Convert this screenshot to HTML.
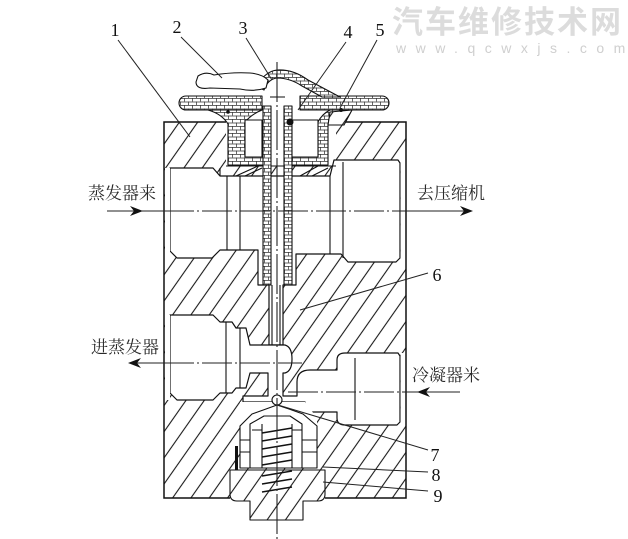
<!DOCTYPE html>
<html><head><meta charset="utf-8"><style>
html,body{margin:0;padding:0;background:#fff;overflow:hidden}
svg{display:block}
.t{font-family:"Liberation Serif","Noto Serif CJK SC",serif;font-size:17px;fill:#2a2a2a}
.n{font-family:"Liberation Serif",serif;font-size:18px;fill:#111}
</style></head><body>
<svg width="628" height="539" viewBox="0 0 628 539" xmlns="http://www.w3.org/2000/svg">
<defs>
<pattern id="h" patternUnits="userSpaceOnUse" width="15" height="15" patternTransform="rotate(35)">
<rect width="15" height="15" fill="#fff"/>
<line x1="7" y1="0" x2="7" y2="15" stroke="#1a1a1a" stroke-width="1.1"/>
</pattern>
<pattern id="b" patternUnits="userSpaceOnUse" width="8" height="7">
<rect width="8" height="7" fill="#fff"/>
<path d="M0,0.5H8M0.5,0V3.5M4.5,3.5V7M0,4H8" stroke="#333" stroke-width="0.75" fill="none"/>
</pattern>
</defs>

<!-- watermark -->
<text x="392" y="33" font-size="31" font-weight="bold" fill="#dcdcdc" font-family="'Noto Sans CJK SC',sans-serif" letter-spacing="2">汽车维修技术网</text>
<text x="396" y="53" font-size="14" fill="#cfcfcf" letter-spacing="9.5" font-family="'Liberation Sans',sans-serif">www.qcwxjs.com</text>

<!-- body hatch -->
<rect x="164" y="122" width="242" height="376" fill="url(#h)"/>

<g fill="#fff" stroke="#111" stroke-width="1.2" stroke-linejoin="round">
<rect x="226" y="118" width="110" height="48" stroke="none"/>
<path d="M170,168 L213,168 L220,176 L330,176 L334,160 L398,160 L400,163 L400,258 L396,262 L348,262 L341,254 L296,254 L296,285 L283,285 L283,345 L269,345 L269,285 L258,285 L258,250 L220,250 L212,258 L177,258 L170,251 Z"/>
<path d="M170,315 L213,315 L220,322 L232,322 L236,328 L246,328 L250,345 L285,345 Q292,347 292,359 Q292,371 285,373 L283,373 L283,396 L297,396 L297,382 Q297,370 310,370 L337,370 L337,360 Q337,353 345,353 L398,353 L400,356 L400,422 L397,425 L345,425 Q337,425 337,418 L337,412 L305,412 L305,402 L243,402 L243,396 L268,396 L268,373 L250,373 L246,388 L236,388 L232,393 L220,393 L213,400 L177,400 L170,393 Z"/>
<path d="M240,402 L305,402 L317,418 L317,468 L240,468 Z" stroke="none"/>
</g>
<g fill="#fff">
<rect x="165" y="168" width="5" height="90"/>
<rect x="165" y="315" width="5" height="85"/>
<rect x="400.6" y="160" width="5" height="102"/>
<rect x="400.6" y="353" width="5" height="72"/>
</g>

<g stroke="#111" stroke-width="1.1" fill="none">
<path d="M227,176V250M240,176V250M343,162V258M330,176V254"/>
<path d="M226,322V393M240,328V388M355,358V420"/>
<path d="M272,285V345M280,285V345"/>
<path d="M220,176V168M226,166H336"/>
</g>

<path d="M226,122 L164,122 L164,498 L230,498 M325,498 L406,498 L406,122 L326,122" fill="none" stroke="#111" stroke-width="1.5"/>

<!-- diaphragm assembly -->
<g stroke="#111" stroke-width="1.1" stroke-linejoin="round">
<path d="M208,110 Q222,114 228,124 L228,165 L266,165 L266,157 L245,157 L245,122 Q252,114 262,110 Z" fill="url(#b)"/>
<rect x="245" y="120" width="17" height="37" fill="#fff"/>
<rect x="263" y="106" width="8" height="179" fill="url(#b)"/>
<rect x="284" y="106" width="8" height="179" fill="url(#b)"/>
<path d="M292,157 L318,157 L318,122 Q322,114 330,110 L347,110 Q335,115 328,124 L328,165 L292,165 Z" fill="url(#b)"/>
<rect x="292" y="120" width="26" height="37" fill="#fff"/>
<path d="M186,96 L262,96 L262,110 L186,110 A7,7 0 0 1 186,96 Z" fill="url(#b)"/>
<path d="M300,96 L382,96 A7,7 0 0 1 382,110 L300,110 Z" fill="url(#b)"/>
<path d="M256,86 Q266,71 277,70 Q293,69 308,80 L340,97 L322,97 L302,86 Q290,78 277,78 Q268,79 264,90 Z" fill="url(#b)"/>
<path d="M198,76 Q206,71 214,75 Q232,72 250,73 Q262,74 268,80 L266,88 Q254,92 240,89 L210,88 Q196,90 196,82 Z" fill="#fff"/>
<path d="M330,112 L352,110 L344,125 L328,125 Z" fill="url(#h)"/>
<path d="M236,176 L258,166 M245,176 L262,168 M300,176 L318,166 M312,176 L328,168" fill="none"/>
</g>
<circle cx="290" cy="122" r="3.5" fill="#111"/>
<circle cx="341" cy="110" r="2" fill="#111"/>
<circle cx="228" cy="112" r="1.8" fill="#111"/>

<!-- lower valve assembly -->
<g stroke="#111" stroke-width="1.1" stroke-linejoin="round">
<path d="M240,426 L252,414 L266,409 L277,405 L289,409 L303,414 L317,426 L317,468 L240,468 Z" fill="#fff"/>
<path d="M250,468 L250,424 L264,416 L290,416 L302,424 L302,468" fill="none"/>
<path d="M262,424V468M292,424V468" fill="none"/>
<path d="M262,433L292,428M262,441L292,436M262,449L292,444M262,457L292,452M262,465L292,460" fill="none" stroke-width="1.4"/>
<path d="M240,440H250M240,452H250M302,440H317M302,452H317M252,430H262M292,430H302" fill="none"/>
<circle cx="277" cy="400" r="5" fill="#fff"/>
<path d="M230,470 L325,470 L325,494 Q325,501 318,501 L303,501 L303,520 L250,520 L250,501 L237,501 Q230,501 230,494 Z" fill="url(#h)"/>
<path d="M262,476L292,471M262,484L292,479M262,492L292,487" fill="none" stroke-width="1.4"/>
</g>
<rect x="235" y="446" width="3" height="24" fill="#111"/>

<!-- axes -->
<g stroke="#222" stroke-width="1.1" fill="none">
<line x1="277" y1="62" x2="277" y2="539" stroke-dasharray="40 3 2 3"/>
<line x1="107" y1="211" x2="164" y2="211"/>
<line x1="164" y1="211" x2="406" y2="211" stroke-dasharray="30 3 2 3"/>
<line x1="406" y1="211" x2="466" y2="211"/>
<line x1="133" y1="363" x2="164" y2="363"/>
<line x1="164" y1="363" x2="302" y2="363" stroke-dasharray="30 3 2 3"/>
<line x1="288" y1="392" x2="406" y2="392" stroke-dasharray="30 3 2 3"/>
<line x1="406" y1="392" x2="460" y2="392"/>
<line x1="270" y1="97" x2="285" y2="97"/>
</g>
<g fill="#111">
<path d="M143,211 L130,206 L134,211 L130,216 Z"/>
<path d="M473,211 L460,206 L464,211 L460,216 Z"/>
<path d="M128,363 L141,358 L137,363 L141,368 Z"/>
<path d="M417,392 L430,387 L426,392 L430,397 Z"/>
</g>

<!-- leaders -->
<g stroke="#222" stroke-width="1" fill="none">
<line x1="118" y1="40" x2="190" y2="137"/>
<line x1="181" y1="37" x2="222" y2="78"/>
<line x1="246" y1="38" x2="272" y2="80"/>
<line x1="346" y1="42" x2="298" y2="110"/>
<line x1="377" y1="40" x2="340" y2="108"/>
<line x1="428" y1="273" x2="300" y2="310"/>
<line x1="428" y1="450" x2="278" y2="405"/>
<line x1="428" y1="472" x2="323" y2="467"/>
<line x1="428" y1="491" x2="323" y2="482"/>
</g>

<g class="n" text-anchor="middle">
<text x="115" y="36">1</text>
<text x="177" y="33">2</text>
<text x="243" y="34">3</text>
<text x="348" y="38">4</text>
<text x="380" y="36">5</text>
<text x="437" y="281">6</text>
<text x="435" y="461">7</text>
<text x="436" y="481">8</text>
<text x="438" y="502">9</text>
</g>

<text class="t" x="88" y="199">蒸发器来</text>
<text class="t" x="417" y="199">去压缩机</text>
<text class="t" x="91" y="353">进蒸发器</text>
<text class="t" x="412" y="381">冷凝器米</text>
</svg>
</body></html>
